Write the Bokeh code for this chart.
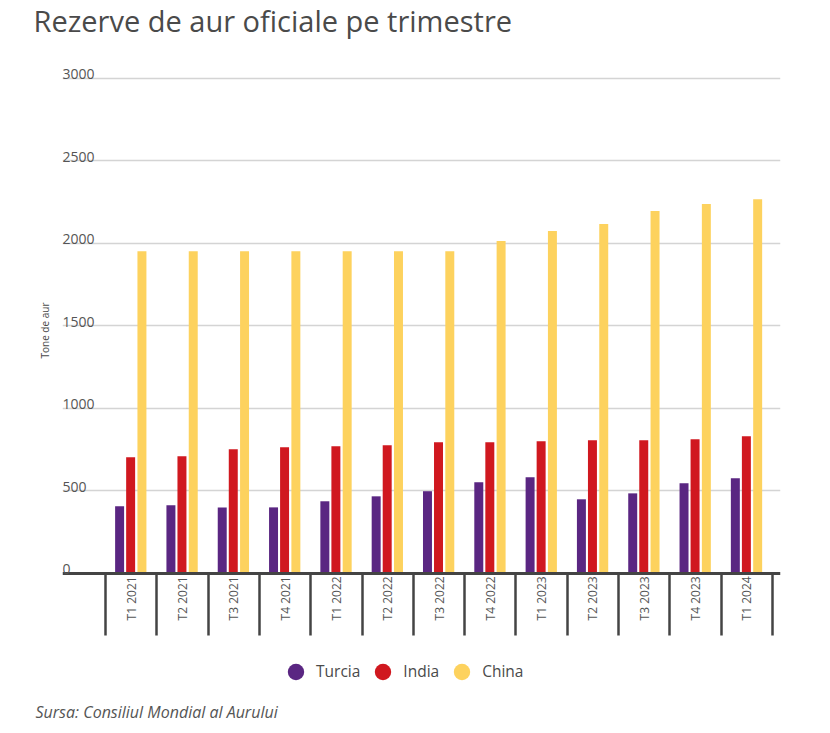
import math
from bokeh.plotting import figure
from bokeh.models import (ColumnDataSource, LinearAxis, FixedTicker, Grid, Label,
                          Legend, LegendItem, Range1d, Title)
from bokeh.transform import dodge
from bokeh.embed import file_html
from bokeh.resources import INLINE

quarters = ["T1 2021", "T2 2021", "T3 2021", "T4 2021", "T1 2022", "T2 2022", "T3 2022",
            "T4 2022", "T1 2023", "T2 2023", "T3 2023", "T4 2023", "T1 2024"]
turcia = [407, 413, 400, 400, 437, 467, 498, 552, 583, 449, 485, 546, 576]
india = [704, 710, 752, 765, 771, 777, 795, 795, 801, 807, 807, 813, 831]
china = [1952, 1952, 1952, 1952, 1952, 1952, 1952, 2015, 2075, 2118, 2197, 2239, 2268]
series_names = ["Turcia", "India", "China"]
colors = ["#5a2682", "#d0181f", "#fdd25e"]
yticks = [0, 500, 1000, 1500, 2000, 2500, 3000]

title_text = "Rezerve de aur oficiale pe trimestre"
source_text = "Sursa: Consiliul Mondial al Aurului"
ylabel_text = "Tone de aur"

FONT = "Open Sans"
TXT = "#4a4a4a"

centers = [i + 0.5 for i in range(len(quarters))]
bounds_x = list(range(len(quarters) + 1))
src = ColumnDataSource(dict(x=centers, q=quarters, turcia=turcia, india=india, china=china))

p = figure(width=830, height=733, output_backend="svg", toolbar_location=None,
           x_range=Range1d(-0.838, 13.155), y_range=Range1d(-758.5, 3224.0),
           x_axis_location=None, y_axis_location=None,
           min_border_left=62, min_border_right=50, min_border_top=0, min_border_bottom=35)
p.outline_line_color = None
p.background_fill_color = "white"
p.border_fill_color = "white"
p.xgrid.visible = False
p.ygrid.visible = False

p.title.text = title_text
p.title.align = "left"
p.title.vertical_align = "top"
p.title.offset = -29
p.title.standoff = 0
p.title.text_font = FONT
p.title.text_font_size = "29px"
p.title.text_font_style = "normal"
p.title.text_color = TXT

grid = Grid(dimension=1, ticker=FixedTicker(ticks=yticks[1:]),
            grid_line_color="#d4d4d4", grid_line_width=1.5)
p.add_layout(grid)

bw = 0.175
offsets = [-0.225, -0.01, 0.21]
cols = ["turcia", "india", "china"]
for col, off, c in zip(cols, offsets, colors):
    p.vbar(x=dodge("x", off), top=col, width=bw, bottom=0, source=src,
           fill_color=c, line_color=None)

# separators + baseline
sep_axis = LinearAxis(fixed_location=0, ticker=FixedTicker(ticks=bounds_x))
sep_axis.major_label_overrides = {b: "" for b in bounds_x}
sep_axis.axis_line_color = "#444444"
sep_axis.axis_line_width = 3
sep_axis.major_tick_out = 62
sep_axis.major_tick_in = 0
sep_axis.major_tick_line_width = 2.5
sep_axis.major_tick_line_color = "#444444"
sep_axis.minor_tick_line_color = None
p.add_layout(sep_axis, "below")

# category labels
lab_axis = LinearAxis(fixed_location=0, ticker=FixedTicker(ticks=centers))
lab_axis.major_label_overrides = {c: q for c, q in zip(centers, quarters)}
lab_axis.axis_line_color = None
lab_axis.major_tick_line_color = None
lab_axis.minor_tick_line_color = None
lab_axis.major_tick_out = 0
lab_axis.major_tick_in = 0
lab_axis.major_label_standoff = 3
lab_axis.major_label_orientation = math.pi / 2
lab_axis.major_label_text_font = FONT
lab_axis.major_label_text_font_size = "12px"
lab_axis.major_label_text_color = "#555555"
p.add_layout(lab_axis, "below")

# y axis title (left panel)
ytitle = Title(text=ylabel_text, align="left", vertical_align="bottom", offset=340, standoff=22,
               text_font=FONT, text_font_size="10px", text_font_style="normal",
               text_color=TXT)
p.add_layout(ytitle, "left")

for v in yticks:
    p.add_layout(Label(x=0, x_units="screen", y=v, y_units="data", y_offset=4,
                       text=str(v), text_font=FONT, text_font_size="14px",
                       text_color="#555555", text_baseline="alphabetic", text_align="left"))

src_title = Title(text=source_text, align="left", offset=-27, standoff=0,
                  text_font=FONT, text_font_size="16px", text_font_style="italic",
                  text_color="#555555")
p.add_layout(src_title, "below")

nan = float("nan")
items = []
for name, c in zip(series_names, colors):
    dummy = ColumnDataSource(dict(x=[nan], y=[nan]))
    r = p.scatter(x="x", y="y", source=dummy, size=16.5, marker="circle",
                  fill_color=c, line_color=None)
    items.append(LegendItem(label=name, renderers=[r]))
legend = Legend(items=items, orientation="horizontal", location=(213, 6.5),
                margin=0, padding=0, spacing=2, label_standoff=0,
                glyph_width=41, glyph_height=41,
                label_text_font=FONT, label_text_font_size="15.5px", label_text_color=TXT,
                border_line_alpha=0, background_fill_alpha=0)
p.add_layout(legend, "center")

open("out.html", "w").write(file_html(p, INLINE))
